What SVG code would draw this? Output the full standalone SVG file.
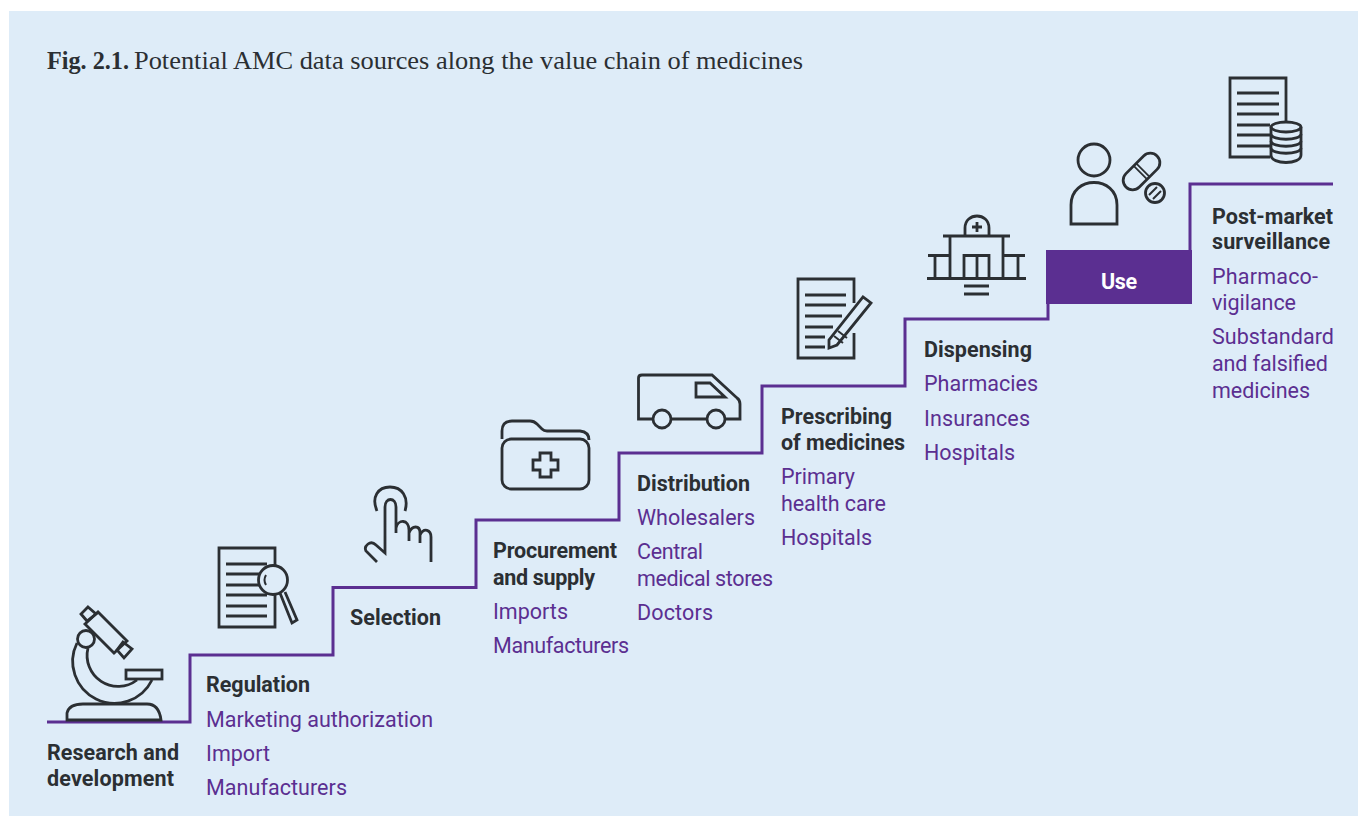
<svg xmlns="http://www.w3.org/2000/svg" width="1358" height="816" viewBox="0 0 1358 816">
<style>
text{font-family:Roboto,"Liberation Sans",sans-serif}
.h{font-size:21.5px;font-weight:700;fill:#2b2f33}
.t{font-size:21.5px;fill:#5b2f91}
.c{font-family:"Liberation Serif",serif;font-size:26px;fill:#2b2f33}
.i{fill:none;stroke:#2b2f33;stroke-width:2.800}
.s{fill:none;stroke:#5b2f91;stroke-width:3}
</style>
<rect x="9" y="11" width="1349" height="805" fill="#deecf8"/>
<text class="c" x="47" y="69" font-weight="700" textLength="82" lengthAdjust="spacingAndGlyphs">Fig. 2.1.</text>
<text class="c" x="134" y="69" textLength="669" lengthAdjust="spacingAndGlyphs">Potential AMC data sources along the value chain of medicines</text>
<g id="connectors">
<path class="s" d="M47 722H190V655H333V587.500H476V520H619V453H762V386H905V319H1048V285"/>
<path class="s" d="M1190 270V184H1333"/>
</g>
<g id="research">
<g class="i"><path d="M67 720V713Q69 704 83 704H147Q159 704 161 720Z"/><path d="M77 643A40 40 0 0 0 152 680M88 648A31 31 0 0 0 137 680"/><circle cx="86" cy="639" r="8.500"/><path d="M85 624 98 612 127 641 114 653Z"/><path d="M88 607 96 614 87 621 81 614ZM123 642 132 649 124 658 117 650Z"/><rect x="126" y="670" width="36" height="9"/></g>
<text class="h" x="47" y="760" textLength="132">Research and</text><text class="h" x="47" y="786" textLength="127">development</text></g>
<g id="regulation">
<g class="i"><path d="M275 565V548H219V627H275V594"/><path d="M226 564H267M226 574H260M226 585H260M226 595H267M226 606H267M226 616H267"/><circle cx="273" cy="580" r="14.500"/><path d="M266 585Q263 580 266 575" stroke-width="2"/><path d="M280 593 292 623 297 620 285 592"/></g>
<text class="h" x="206" y="692" textLength="104">Regulation</text><text class="t" x="206" y="727" textLength="227">Marketing authorization</text><text class="t" x="206" y="761" textLength="64">Import</text><text class="t" x="206" y="795" textLength="141">Manufacturers</text></g>
<g id="selection">
<g class="i"><path d="M377 511C371 497 378 487 390 487C402 487 409 497 405 511"/><path d="M377 562 366 551Q364 547 368 544Q372 541 376 545L385 553V507C385 497 396 497 396 507V533M396 528C398 519 409 519 409 530V541M409 533C412 525 420 525 420 533V543M420 535C424 527 431 530 431 537V562"/></g>
<text class="h" x="350" y="625" textLength="91">Selection</text></g>
<g id="procurement">
<g class="i"><path d="M502 439V431Q502 421 512 421H530Q534 421 537 424L542 429Q544 431 547 431H580Q589 432 589 440"/><rect x="502" y="439" width="87" height="50" rx="9"/><path d="M540 453H551V460H558V470H551V477H540V470H533V460H540Z"/></g>
<text class="h" x="493" y="558" textLength="124">Procurement</text><text class="h" x="493" y="585" textLength="102">and supply</text><text class="t" x="493" y="619" textLength="75">Imports</text><text class="t" x="493" y="653" textLength="136">Manufacturers</text></g>
<g id="distribution">
<g class="i"><path d="M653 419H638.500V378Q638.500 375 642 375H712L737 398Q740 400 740 404V419H725M707 419H671"/><circle cx="662" cy="419" r="9"/><circle cx="716" cy="419" r="9"/><path d="M696 383V397H725L710 383Z"/></g>
<text class="h" x="637" y="491" textLength="113">Distribution</text><text class="t" x="637" y="525" textLength="118">Wholesalers</text><text class="t" x="637" y="559" textLength="66">Central</text><text class="t" x="637" y="586" textLength="136">medical stores</text><text class="t" x="637" y="620" textLength="76">Doctors</text></g>
<g id="prescribing">
<g class="i"><path d="M854 303V279H798V358H854V333"/><path d="M805 295H846M805 305H846M805 316H842M805 327H833M805 337H825M805 347H825"/><path d="M829 348V340L863 297 871 303 837 345Z"/><path d="M834 336 843 343M838 331 847 338" stroke-width="2"/></g>
<text class="h" x="781" y="424" textLength="111">Prescribing</text><text class="h" x="781" y="450" textLength="124">of medicines</text><text class="t" x="781" y="484" textLength="74">Primary</text><text class="t" x="781" y="511" textLength="105">health care</text><text class="t" x="781" y="545" textLength="91">Hospitals</text></g>
<g id="dispensing">
<g class="i"><path d="M965 235V228C965 212 989 212 989 228V235"/><path d="M972 227H982M977 222V232"/><path d="M943 236H1010M950 236V278M1003 236V278"/><path d="M927 278.500H1026M928 255.500H950M1003 255.500H1025M935 256V278M1018 256V278"/><path d="M964 278V255.500H989V278M977 256V278"/><path d="M964 286H989M964 294H989"/></g>
<text class="h" x="924" y="357" textLength="108">Dispensing</text><text class="t" x="924" y="391" textLength="114">Pharmacies</text><text class="t" x="924" y="426" textLength="106">Insurances</text><text class="t" x="924" y="460" textLength="91">Hospitals</text></g>
<g id="use">
<g class="i"><circle cx="1094" cy="160" r="16"/><path d="M1071 224V205C1071 175 1117 175 1117 205V224Z"/><g transform="rotate(-45 1141.500 171.500)"><rect x="1119.500" y="162" width="44" height="19" rx="9.500"/><path d="M1140 162V181M1143.500 162V181" stroke-width="1.800"/></g><circle cx="1155" cy="193" r="9.500"/><path d="M1149 195 1157 187M1153 199 1161 191" stroke-width="2"/></g>
<rect x="1046" y="250" width="146" height="54" fill="#5b2f91"/>
<text x="1119" y="289" text-anchor="middle" textLength="36" style="font-size:21.500px;font-weight:700" fill="#fff">Use</text></g>
<g id="surveillance">
<g class="i"><path d="M1286 123V78H1230V157H1270"/><path d="M1237 93H1279M1237 104H1279M1237 114H1279M1237 125H1270M1237 135H1270M1237 146H1270"/><path d="M1271 127V155C1271 165 1301 165 1301 155V127"/><ellipse cx="1286" cy="127" rx="15" ry="5"/><path d="M1271 134C1271 141 1301 141 1301 134M1271 141C1271 148 1301 148 1301 141M1271 148C1271 155 1301 155 1301 148"/></g>
<text class="h" x="1212" y="224" textLength="121">Post-market</text><text class="h" x="1212" y="249" textLength="118">surveillance</text><text class="t" x="1212" y="284" textLength="106">Pharmaco-</text><text class="t" x="1212" y="310" textLength="84">vigilance</text><text class="t" x="1212" y="344" textLength="122">Substandard</text><text class="t" x="1212" y="371" textLength="116">and falsified</text><text class="t" x="1212" y="398" textLength="98">medicines</text></g>
</svg>
